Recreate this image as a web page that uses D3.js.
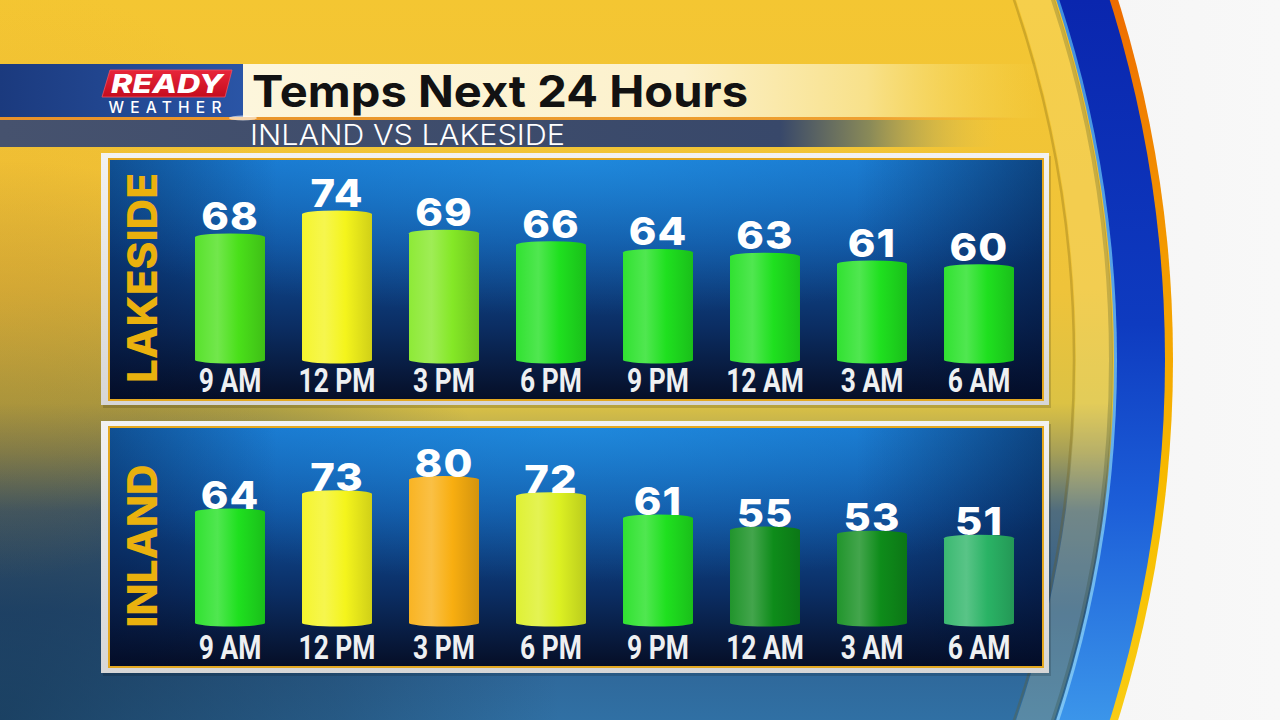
<!DOCTYPE html>
<html><head><meta charset="utf-8">
<script src="https://cdn.jsdelivr.net/npm/d3@7"></script>
<style>html,body{margin:0;padding:0;background:#f3f3f3;overflow:hidden}</style>
</head><body><svg id="c" width="1280" height="720"></svg>
<script>
// ---- data ----
const times = ["9 AM","12 PM","3 PM","6 PM","9 PM","12 AM","3 AM","6 AM"];
const lakesideTemps = [68,74,69,66,64,63,61,60];
const inlandTemps = [64,73,80,72,61,55,53,51];
const panelNames = ["LAKESIDE","INLAND"];
const titleText = "Temps Next 24 Hours";
const subtitleText = "INLAND VS LAKESIDE";
const logoTop = "READY";
const logoBottom = "WEATHER";
// temperature colour palette (thresholds -> colours)
const tempBreaks = [52,57,68,69,72,73,77];
const tempColors = ["#2ab365","#0e8c1a","#1fe01f","#4ae01a","#84e826","#dcf022","#f4f41c","#f8ae10"];

const W=1280,H=720, CX=-36, CY=360;
const svg=d3.select("#c");
const defs=svg.append("defs");
function linGrad(id,x1,y1,x2,y2,stops,units){
  const g=defs.append("linearGradient").attr("id",id).attr("x1",x1).attr("y1",y1).attr("x2",x2).attr("y2",y2);
  if(units) g.attr("gradientUnits",units);
  stops.forEach(([o,c,op])=>g.append("stop").attr("offset",o).attr("stop-color",c).attr("stop-opacity",op==null?1:op));
  return `url(#${id})`;
}
function radGrad(id,cx,cy,r,stops,units){
  const g=defs.append("radialGradient").attr("id",id).attr("cx",cx).attr("cy",cy).attr("r",r);
  if(units) g.attr("gradientUnits",units);
  stops.forEach(([o,c,op])=>g.append("stop").attr("offset",o).attr("stop-color",c).attr("stop-opacity",op==null?1:op));
  return `url(#${id})`;
}

// ---- outer white area + ring ----
svg.append("rect").attr("width",W).attr("height",H)
  .attr("fill",linGrad("white",0,0,1,0,[[0,"#e9e9e9"],[1,"#f8f8f8"]]));
svg.append("circle").attr("cx",CX).attr("cy",CY).attr("r",1209)
  .attr("fill",linGrad("rim",0,0,0,720,[[0,"#ee6c00"],[0.35,"#f39a00"],[0.7,"#f7bd00"],[1,"#f9cc14"]],"userSpaceOnUse"));
svg.append("circle").attr("cx",CX).attr("cy",CY).attr("r",1201)
  .attr("fill",linGrad("blueband",0,0,0,720,[[0,"#0a26ae"],[0.45,"#0e3bc0"],[0.7,"#1c5ed8"],[1,"#3b95ea"]],"userSpaceOnUse"));
svg.append("circle").attr("cx",CX).attr("cy",CY).attr("r",1153)
  .attr("fill",linGrad("bluelite",0,0,0,720,[[0,"#3f8fe0"],[1,"#7cc4f4"]],"userSpaceOnUse"));

defs.append("clipPath").attr("id","inner").append("circle").attr("cx",CX).attr("cy",CY).attr("r",1150);
const bg=svg.append("g").attr("clip-path","url(#inner)");
bg.append("rect").attr("width",W).attr("height",H)
  .attr("fill",linGrad("bgv",0,0,0,720,[[0,"#f4c632"],[0.4,"#efc33a"],[0.56,"#dcc244"],[0.63,"#a49e58"],[0.71,"#4f6c7e"],[0.85,"#2e5f8f"],[1,"#3070a4"]],"userSpaceOnUse"));
bg.append("rect").attr("width",W).attr("height",H)
  .attr("fill",radGrad("bgleft",0,720,560,[[0,"#0d2238",0.6],[0.6,"#10243a",0.3],[1,"#10243a",0]],"userSpaceOnUse"));
bg.append("rect").attr("width",W).attr("height",H)
  .attr("fill",radGrad("bgorange",0,280,300,[[0,"#e8a82a",0.35],[1,"#e8a82a",0]],"userSpaceOnUse"));
// ring bevels
bg.append("circle").attr("cx",CX).attr("cy",CY).attr("r",1130).attr("fill","none")
  .attr("stroke","#fff3b0").attr("stroke-opacity",0.2).attr("stroke-width",36);
bg.append("circle").attr("cx",CX).attr("cy",CY).attr("r",1110).attr("fill","none")
  .attr("stroke","#6e5a10").attr("stroke-opacity",0.28).attr("stroke-width",2.5);
bg.append("circle").attr("cx",CX).attr("cy",CY).attr("r",1147).attr("fill","none")
  .attr("stroke","#2a3a20").attr("stroke-opacity",0.22).attr("stroke-width",4);

// ---- header ----
bg.append("rect").attr("x",0).attr("y",64).attr("width",243).attr("height",54)
  .attr("fill",linGrad("hblue",0,0,1,0,[[0,"#1b3a7e"],[1,"#2a55a6"]]));
bg.append("rect").attr("x",243).attr("y",64).attr("width",800).attr("height",54)
  .attr("fill",linGrad("hcream",243,0,1043,0,[[0,"#fdf6dc"],[0.55,"#fcf1cc"],[0.78,"#f8e18a"],[1,"#f5d650",0]],"userSpaceOnUse"));
bg.append("rect").attr("x",0).attr("y",117).attr("width",1020).attr("height",3)
  .attr("fill",linGrad("hline",0,0,1,0,[[0,"#e8922a"],[0.85,"#eea030"],[1,"#eea030",0]]));
bg.append("rect").attr("x",0).attr("y",120).attr("width",1000).attr("height",27)
  .attr("fill",linGrad("hsub",0,0,1000,0,[[0,"#46526e"],[0.78,"#38486a"],[0.87,"#8a8a58"],[1,"#e6c850",0]],"userSpaceOnUse"));
bg.append("ellipse").attr("cx",243).attr("cy",118).attr("rx",14).attr("ry",2.5).attr("fill","#fff").attr("opacity",0.6);

// logo
bg.append("path").attr("d","M110,70 L232,70 L225,97 L102,97 Z")
  .attr("fill",linGrad("logored",0,0,0,1,[[0,"#e8263a"],[1,"#c40c1e"]]))
  .attr("stroke","#f05060").attr("stroke-width",0.8);
bg.append("text").attr("x",167).attr("y",93).attr("text-anchor","middle")
  .attr("font-family","Inter, 'DejaVu Sans', sans-serif").attr("font-weight",800).attr("font-style","italic")
  .attr("font-size",26).attr("fill","#fff").attr("textLength",112).attr("lengthAdjust","spacingAndGlyphs").text(logoTop);
bg.append("text").attr("x",165).attr("y",113).attr("text-anchor","middle")
  .attr("font-family","Inter, 'DejaVu Sans', sans-serif").attr("font-weight",500)
  .attr("font-size",15.5).attr("fill","#fff").attr("textLength",113).attr("lengthAdjust","spacing").text(logoBottom);

// titles
bg.append("text").attr("x",252).attr("y",107)
  .attr("font-family","Inter, 'DejaVu Sans', sans-serif").attr("font-weight",700)
  .attr("font-size",44).attr("fill","#121212").attr("textLength",496).attr("lengthAdjust","spacingAndGlyphs").text(titleText);
bg.append("text").attr("x",250).attr("y",145)
  .attr("font-family","Inter, 'Open Sans', sans-serif").attr("font-weight",300)
  .attr("font-size",28).attr("fill","#fff").attr("textLength",315).attr("lengthAdjust","spacingAndGlyphs").text(subtitleText);

// ---- panels ----
const x=d3.scaleBand().domain(times).range([176.5,1032.5]).paddingInner(0.346).paddingOuter(0.173);
const color=d3.scaleThreshold().domain(tempBreaks).range(tempColors);

linGrad("panelV",0,0,0,1,[[0,"#1670c8"],[0.35,"#0f4f9c"],[0.7,"#0b2d62"],[1,"#060e26"]]);
radGrad("panelR",0.5,0,0.65,[[0,"#2aa6f4",0.45],[1,"#2aa6f4",0]]);
linGrad("panelH",0,0,1,0,[[0,"#000a28",0.35],[0.18,"#000a28",0],[0.8,"#000a28",0],[1,"#000a28",0.45]]);
linGrad("border",0,0,0,1,[[0,"#f2f2f2"],[1,"#d6d6d6"]]);

const panels=[
 {name:panelNames[0],temps:lakesideTemps,outer:[101,153,948,252],inner:[109,159,934,241],base:360,domain:[36,74],topY:214,labelY:392,gap:7,nameY:278,nameLen:210},
 {name:panelNames[1],temps:inlandTemps,outer:[101,421,948,252],inner:[109,427,934,240],base:623,domain:[9,80],topY:479.6,labelY:659,gap:3,nameY:546,nameLen:163}
];

function cyl(x0,w,yTop,yBot,ry){
  const x1=x0+w, rx=w/2;
  return `M${x0},${yTop} A${rx},${ry} 0 0 1 ${x1},${yTop} L${x1},${yBot} A${rx},${ry} 0 0 1 ${x0},${yBot} Z`;
}

panels.forEach((p,pi)=>{
  const g=bg.append("g");
  const [ox,oy,ow,oh]=p.outer, [ix,iy,iw,ih]=p.inner;
  g.append("rect").attr("x",ox+2).attr("y",oy+3).attr("width",ow).attr("height",oh).attr("fill","#000").attr("opacity",0.15);
  g.append("rect").attr("x",ox).attr("y",oy).attr("width",ow).attr("height",oh).attr("fill","url(#border)");
  ["url(#panelV)","url(#panelR)","url(#panelH)"].forEach(f=>
    g.append("rect").attr("x",ix).attr("y",iy).attr("width",iw).attr("height",ih).attr("fill",f));
  g.append("rect").attr("x",ix).attr("y",iy).attr("width",iw).attr("height",ih)
    .attr("fill","none").attr("stroke","#e4a820").attr("stroke-width",2);

  const y=d3.scaleLinear().domain(p.domain).range([p.base,p.topY]);

  // side label
  g.append("text").attr("transform",`translate(157,${p.nameY}) rotate(-90)`).attr("text-anchor","middle")
    .attr("font-family","Inter, 'DejaVu Sans', sans-serif").attr("font-weight",800)
    .attr("font-size",41).attr("fill","#eab10e").attr("textLength",p.nameLen).attr("lengthAdjust","spacingAndGlyphs").text(p.name);

  // bars
  p.temps.forEach((v,i)=>{
    const c=d3.color(color(v));
    const id=`bar${pi}_${i}`;
    linGrad(id,0,0,1,0,[
      [0,d3.interpolateRgb(c,"#fff")(0.08)],
      [0.32,d3.interpolateRgb(c,"#fff")(0.22)],
      [0.62,c.formatHex()],
      [1,c.darker(0.45).formatHex()]
    ]);
  });
  g.selectAll("path.bar").data(p.temps).join("path").attr("class","bar")
    .attr("d",(v,i)=>cyl(x(times[i]),x.bandwidth(),y(v),p.base,3.5))
    .attr("fill",(v,i)=>`url(#bar${pi}_${i})`);

  // value labels
  g.selectAll("text.val").data(p.temps).join("text").attr("class","val")
    .attr("transform",(v,i)=>`translate(${x(times[i])+x.bandwidth()/2},${y(v)-p.gap}) scale(1.1,1)`)
    .attr("text-anchor","middle")
    .attr("font-family","Inter, 'DejaVu Sans', sans-serif").attr("font-weight",800)
    .attr("font-size",38).attr("letter-spacing",1).attr("fill","#fff").text(v=>v);

  // time axis
  const ax=g.append("g").attr("transform",`translate(0,${p.labelY})`).call(d3.axisBottom(x).tickSize(0));
  ax.select(".domain").remove();
  ax.selectAll("text").attr("y",0).attr("dy",0)
    .attr("transform","scale(0.8,1)")
    .attr("font-family","Roboto, 'DejaVu Sans', sans-serif").attr("font-weight",700)
    .attr("font-size",33).attr("fill","#eef0f2");
});
</script>
</body></html>
